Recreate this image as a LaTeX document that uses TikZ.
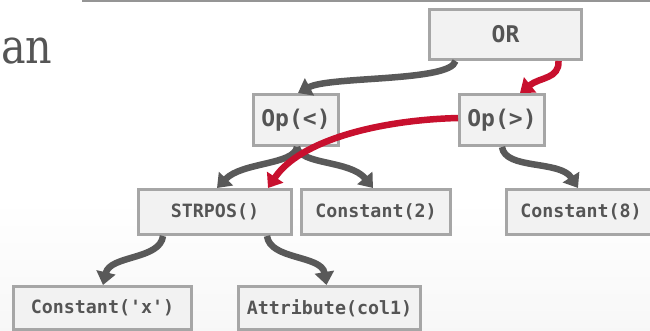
\documentclass[tikz,border=0pt]{standalone}
\usepackage{fontspec}
\setmonofont{DejaVu Sans Mono}
\newfontfamily\anfont{DejaVu Serif}
\usetikzlibrary{arrows.meta}
\definecolor{boxfill}{HTML}{F2F2F2}
\definecolor{boxline}{HTML}{A6A6A6}
\definecolor{txt}{HTML}{555555}
\definecolor{conn}{HTML}{595959}
\definecolor{hot}{HTML}{C8102E}
\tikzset{
  opbox/.style={rectangle, draw=boxline, fill=boxfill, line width=3pt, inner sep=0pt,
    text=txt, font=\ttfamily\bfseries\fontsize{23}{26}\selectfont},
  leafbox/.style={opbox, font=\ttfamily\bfseries\fontsize{18.3}{21}\selectfont},
  link/.style={draw=conn, line width=6.5pt, -{Triangle[length=13pt,width=19pt]}},
  hotlink/.style={link, draw=hot},
}
\begin{document}
\begin{tikzpicture}[x=1pt,y=-1pt]
\useasboundingbox (0,0) rectangle (650,330);
\clip (0,0) rectangle (650,330);
\shade[top color=white, bottom color=black!3] (0,200) rectangle (650,330);
\draw[boxline!90!black, line width=1.5pt] (82,1) -- (650,1);
\node[anchor=base west, inner sep=0pt, text=txt, font=\anfont\fontsize{48}{50}\selectfont] (title) at (1,63) {\scalebox{0.86}[1]{an}};
% nodes
\node[opbox, minimum width=152pt, minimum height=50pt] (OR) at (505.5,34.5) {OR};
\node[opbox, minimum width=85pt, minimum height=51pt] (OPL) at (296,120) {Op(<)};
\node[opbox, minimum width=85pt, minimum height=51pt] (OPR) at (502,120) {Op(>)};
\node[leafbox, minimum width=153pt, minimum height=45pt] (STR) at (215,212) {STRPOS()};
\node[leafbox, minimum width=149pt, minimum height=45pt] (C2) at (376,212) {Constant(2)};
\node[leafbox, minimum width=149pt, minimum height=45pt] (C8) at (581,212) {Constant(8)};
\node[leafbox, minimum width=178pt, minimum height=43pt] (CX) at (102.5,308) {Constant('x')};
\node[leafbox, minimum width=182pt, minimum height=43pt] (ATT) at (329.5,308) {Attribute(col1)};
% gray connectors
\draw[link] ([xshift=-50pt]OR.south) .. controls +(-5,21) and +(32,-17) .. ([xshift=2pt]OPL.north);
\draw[link] ([xshift=1pt]OPL.south) .. controls +(-3,18) and +(25,-26) .. ([xshift=2pt]STR.north);
\draw[link] ([xshift=1pt]OPL.south) .. controls +(3,18) and +(-23,-28) .. ([xshift=-3pt]C2.north);
\draw[link] (OPR.south) .. controls +(3,23) and +(-18,-28) .. ([xshift=-3pt]C8.north);
\draw[link] ([xshift=-52pt]STR.south) .. controls +(-3,24) and +(7,-30) .. ([xshift=0.5pt]CX.north);
\draw[link] ([xshift=52pt]STR.south) .. controls +(3,24) and +(-5,-30) .. ([xshift=-3pt]ATT.north);
% red connectors
\draw[hotlink] ([xshift=53pt]OR.south) .. controls +(1,18) and +(20,-16) .. ([xshift=18pt]OPR.north);
\draw[hotlink] ([yshift=2pt]OPR.west) .. controls +(-78,2) and +(32,-48) .. ([xshift=53pt]STR.north);
\end{tikzpicture}
\end{document}
